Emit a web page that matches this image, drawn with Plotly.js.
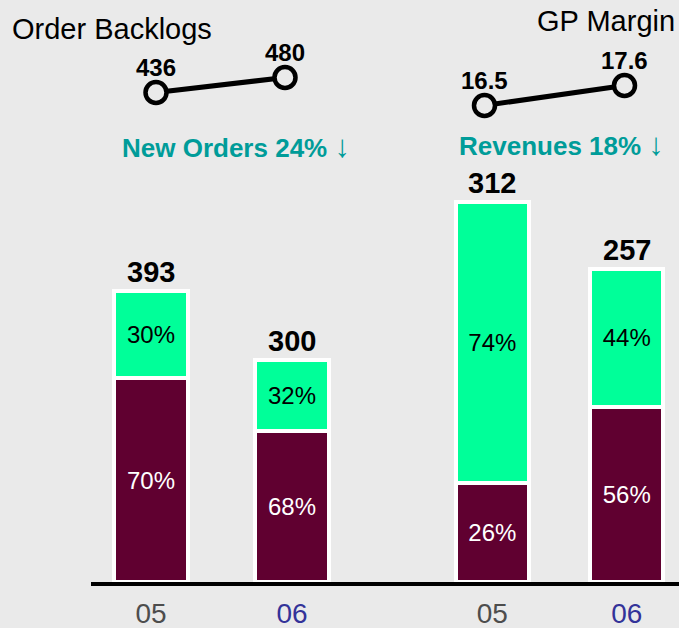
<!DOCTYPE html>
<html>
<head>
<meta charset="utf-8">
<script src="https://cdn.plot.ly/plotly-3.0.1.min.js"></script>
<style>html,body{margin:0;padding:0;background:#eaeaea;}#chart{width:679px;height:628px;}</style>
</head>
<body>
<div id="chart"></div>
<script>
// ---- data ----
const groups = ['05', '06'];
const tickLabels = ['05', '06'];
const orderTotals = [393, 300];
const orderUpperPct = [30, 32];
const orderLowerPct = [70, 68];
const revTotals = [312, 257];
const revUpperPct = [74, 44];
const revLowerPct = [26, 56];
const backlogs = [436, 480];
const gpMargin = [16.5, 17.6];
const backlogTitle = 'Order Backlogs';
const marginTitle = 'GP Margin';
const ordersNote = 'New Orders 24%';
const revenuesNote = 'Revenues 18%';
const downArrow = '\u2193';

// ---- styles ----
const BG = '#eaeaea';
const MAROON = '#600030';
const GREEN = '#00ff99';
const TEAL = '#009c99';
const FONT = 'Liberation Sans, Arial, sans-serif';
const tickColors = ['#4d4d4d', '#333399'];
const H = 582; // plot bottom in px (margin t=0)
const W = 679;
const py = p => (H - p) / H;
const px = p => p / W;

const seg = (tot, pct) => tot.map((t, i) => t * pct[i] / 100);
const pctText = pct => pct.map(v => v + '%');

function barTrace(x, y, pct, color, txtColor, xa, ya, w) {
  return {
    type: 'bar', x: x, y: y, xaxis: xa, yaxis: ya,
    width: w,
    marker: {color: color, line: {color: '#ffffff', width: 4}},
    text: pctText(pct), textposition: 'inside', insidetextanchor: 'middle',
    constraintext: 'none', textangle: 0,
    textfont: {family: FONT, size: 24, color: txtColor},
    hoverinfo: 'skip'
  };
}

function lineTrace(x, y, xa, ya) {
  return {
    type: 'scatter', mode: 'lines+markers', x: x, y: y, xaxis: xa, yaxis: ya,
    line: {color: '#000000', width: 5},
    marker: {size: 21, color: BG, line: {color: '#000000', width: 4.5}},
    hoverinfo: 'skip'
  };
}

const data = [
  barTrace(groups, seg(orderTotals, orderLowerPct), orderLowerPct, MAROON, '#ffffff', 'x', 'y', 0.52),
  barTrace(groups, seg(orderTotals, orderUpperPct), orderUpperPct, GREEN, '#000000', 'x', 'y', 0.52),
  barTrace(groups, seg(revTotals, revLowerPct), revLowerPct, MAROON, '#ffffff', 'x2', 'y2', 0.54),
  barTrace(groups, seg(revTotals, revUpperPct), revUpperPct, GREEN, '#000000', 'x2', 'y2', 0.54),
  lineTrace(groups, backlogs, 'x3', 'y3'),
  lineTrace(groups, gpMargin, 'x4', 'y4')
];

// category index of each group (annotations on category axes use the index)
const annotations = [];
function addTotals(tot, xr, yr) {
  tot.forEach((v, i) => annotations.push({
    x: groups.indexOf(groups[i]), y: v, xref: xr, yref: yr, text: '<b>' + v + '</b>',
    showarrow: false, yanchor: 'middle', yshift: 19,
    font: {family: FONT, size: 29, color: '#000000'}
  }));
}
addTotals(orderTotals, 'x', 'y');
addTotals(revTotals, 'x2', 'y2');
function addMini(vals, xr, yr) {
  vals.forEach((v, i) => annotations.push({
    x: groups.indexOf(groups[i]), y: v, xref: xr, yref: yr, text: '<b>' + v + '</b>',
    showarrow: false, yanchor: 'middle', yshift: 25,
    font: {family: FONT, size: 24, color: '#000000'}
  }));
}
addMini(backlogs, 'x3', 'y3');
addMini(gpMargin, 'x4', 'y4');

annotations.push({
  x: px(10), y: py(29), xref: 'paper', yref: 'paper', xanchor: 'left', yanchor: 'middle',
  text: backlogTitle, showarrow: false, font: {family: FONT, size: 29, color: '#000000'}
});
annotations.push({
  x: px(677), y: py(21), xref: 'paper', yref: 'paper', xanchor: 'right', yanchor: 'middle',
  text: marginTitle, showarrow: false, font: {family: FONT, size: 29, color: '#000000'}
});
const arrowSpan = '<span style="font-size:31px">' + downArrow + '</span>';
annotations.push({
  x: px(120), y: py(146), xref: 'paper', yref: 'paper', xanchor: 'left', yanchor: 'middle',
  text: '<b>' + ordersNote + '</b> ' + arrowSpan, showarrow: false,
  font: {family: FONT, size: 26, color: TEAL}
});
annotations.push({
  x: px(457), y: py(144), xref: 'paper', yref: 'paper', xanchor: 'left', yanchor: 'middle',
  text: '<b>' + revenuesNote + '</b> ' + arrowSpan, showarrow: false,
  font: {family: FONT, size: 26, color: TEAL}
});

const hiddenAxis = {visible: false, fixedrange: true};
function mainX(domain, range) {
  return {
    domain: domain, range: range, type: 'category',
    showgrid: false, zeroline: false, showline: false, ticks: '',
    tickvals: groups,
    ticktext: tickLabels.map((t, i) => '<span style="color:' + tickColors[i] + '">' + t + '</span>'),
    tickfont: {family: FONT, size: 28, color: '#4d4d4d'},
    ticklabelstandoff: 12,
    fixedrange: true
  };
}

const layout = {
  width: 679, height: 628,
  margin: {l: 0, r: 0, t: 0, b: 46, pad: 0},
  paper_bgcolor: BG, plot_bgcolor: 'rgba(0,0,0,0)',
  barmode: 'stack', showlegend: false,
  font: {family: FONT},
  xaxis: mainX([px(80.5), px(362.5)], [-0.5, 1.5]),
  yaxis: Object.assign({}, hiddenAxis, {domain: [0, 1], range: [0, H / 0.74]}),
  xaxis2: Object.assign(mainX([px(425.1), 1], [-0.5, 1.389]), {anchor: 'y2'}),
  yaxis2: Object.assign({}, hiddenAxis, {domain: [0, 1], range: [0, H / 1.218], anchor: 'x2', overlaying: 'y'}),
  xaxis3: Object.assign({}, hiddenAxis, {domain: [px(91.5), px(349.5)], range: [-0.5, 1.5], type: 'category', anchor: 'y3'}),
  yaxis3: Object.assign({}, hiddenAxis, {domain: [py(120), py(40)], range: [355.4, 590.0], anchor: 'x3'}),
  xaxis4: Object.assign({}, hiddenAxis, {domain: [px(414.5), px(677.7)], range: [-0.5, 1.38], type: 'category', anchor: 'y4'}),
  yaxis4: Object.assign({}, hiddenAxis, {domain: [py(120), py(40)], range: [15.702, 20.102], anchor: 'x4'}),
  shapes: [{
    type: 'line', xref: 'paper', yref: 'paper',
    x0: px(91), x1: 1, y0: py(584), y1: py(584),
    line: {color: '#000000', width: 4}, layer: 'above'
  }],
  annotations: annotations
};

Plotly.newPlot('chart', data, layout, {displayModeBar: false, staticPlot: true});
</script>
</body>
</html>
